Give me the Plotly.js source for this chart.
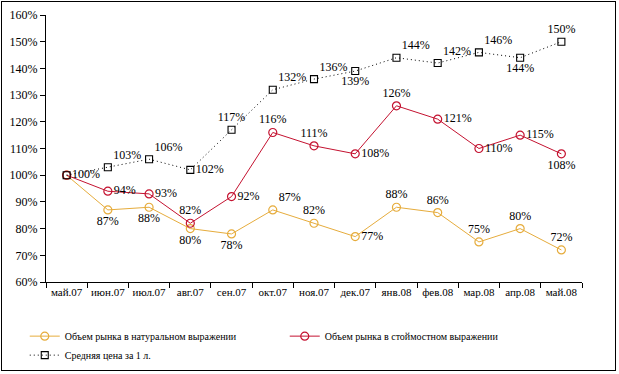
<!DOCTYPE html>
<html><head><meta charset="utf-8">
<script src="https://cdn.plot.ly/plotly-3.0.1.min.js"></script>
<style>
body{margin:0;padding:0;background:#fff;}
#chart{position:absolute;left:0;top:0;width:619px;height:374px;}
#frame{position:absolute;left:1px;top:1px;width:613px;height:368px;border:1px solid #000;pointer-events:none;}
</style></head>
<body>
<div id="chart"></div><div id="frame"></div>
<script>
const categories = ["май.07","июн.07","июл.07","авг.07","сен.07","окт.07","ноя.07","дек.07","янв.08","фев.08","мар.08","апр.08","май.08"];
const naturalVol = [100, 87, 88, 80, 78, 87, 82, 77, 88, 86, 75, 80, 72];
const valueVol   = [100, 94, 93, 82, 92, 116, 111, 108, 126, 121, 110, 115, 108];
const avgPrice   = [100, 103, 106, 102, 117, 132, 136, 139, 144, 142, 146, 144, 150];
const seriesNames = ["Объем рынка в натуральном выражении","Объем рынка в стоймостном выражении","Средняя цена за 1 л."];

const natPos = ["middle right","bottom center","bottom center","bottom center","bottom center","top right","top center","middle right","top center","top center","top center","top center","top center"];
const valPos = ["middle right","middle right","middle right","top center","middle right","top center","top center","middle right","top center","middle right","middle right","middle right","bottom center"];
const prcPos = ["middle right","top right","top right","middle right","top center","top right","top right","bottom center","top right","top right","top right","bottom center","top center"];

const lbl = a => a.map(v => v + "%");
const natText = lbl(naturalVol); natText[0] = "";
const valText = lbl(valueVol); valText[0] = "";
const serif = "Liberation Serif, Times New Roman, serif";
const tf = {family:serif, size:12, color:"#000"};
const orange = "#E6AC3C", red = "#C41230";

const traces = [
 {x:categories, y:naturalVol, name:seriesNames[0], mode:"lines+markers+text", text:natText, textposition:natPos, textfont:tf,
  line:{color:orange, width:1}, marker:{symbol:"circle-open", size:8, color:orange, line:{width:1.2}}, cliponaxis:false},
 {x:categories, y:valueVol, name:seriesNames[1], mode:"lines+markers+text", text:valText, textposition:valPos, textfont:tf,
  line:{color:red, width:1}, marker:{symbol:"circle-open", size:8, color:red, line:{width:1.2}}, cliponaxis:false},
 {x:categories, y:avgPrice, name:seriesNames[2], mode:"lines+markers+text", text:lbl(avgPrice), textposition:prcPos, textfont:tf,
  line:{color:"#000", width:1, dash:"1px,3px"}, marker:{symbol:"square-open", size:7, color:"#000", line:{width:1.1}}, cliponaxis:false}
];

const layout = {
 width:619, height:374,
 margin:{l:46, r:37, t:15, b:92},
 paper_bgcolor:"#fff", plot_bgcolor:"#fff",
 font:{family:serif, size:12, color:"#000"},
 showlegend:true,
 legend:{orientation:"h", xref:"container", yref:"container", x:0.04, xanchor:"left", y:0.14, yanchor:"top", entrywidth:215, entrywidthmode:"pixels",
   font:{family:serif, size:10, color:"#000"}, tracegroupgap:0, itemwidth:30, traceorder:"normal", bgcolor:"rgba(0,0,0,0)"},
 xaxis:{type:"category", range:[-0.5,12.5], showline:true, linecolor:"#000", linewidth:1, ticks:"outside", ticklen:5, tickcolor:"#000",
   tickson:"boundaries", tickangle:0, showgrid:false, zeroline:false, tickfont:{family:serif, size:11}, fixedrange:true, automargin:false},
 yaxis:{range:[60,160], dtick:10, tick0:60, ticksuffix:"%", showline:true, linecolor:"#000", linewidth:1, ticks:"outside", ticklen:5, tickcolor:"#000",
   showgrid:false, zeroline:false, tickfont:{family:serif, size:12}, fixedrange:true, automargin:false}
};
Plotly.newPlot("chart", traces, layout, {staticPlot:true});
</script>
</body></html>
